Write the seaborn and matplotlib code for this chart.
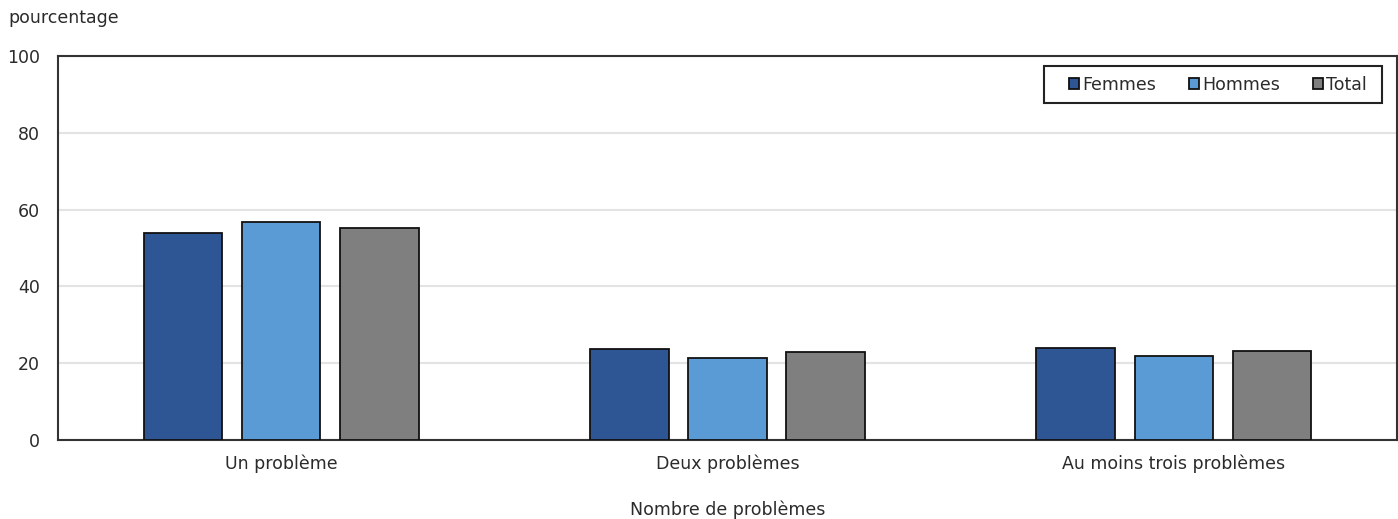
import matplotlib
matplotlib.use("Agg")
import matplotlib.pyplot as plt
from matplotlib.patches import Rectangle
import seaborn as sns
import pandas as pd

categories = ["Un problème", "Deux problèmes", "Au moins trois problèmes"]
series = ["Femmes", "Hommes", "Total"]
femmes = [53.9, 23.6, 23.9]
hommes = [56.9, 21.4, 22.0]
total = [55.1, 22.8, 23.2]
colors = ["#2E5594", "#5A9AD5", "#7F7F7F"]

rows = []
for name, vals in zip(series, [femmes, hommes, total]):
    for c, v in zip(categories, vals):
        rows.append({"cat": c, "serie": name, "val": v})
df = pd.DataFrame(rows)

sns.set_style("white")
plt.rcParams["font.family"] = ["DejaVu Sans"]
plt.rcParams["font.sans-serif"] = ["DejaVu Sans"]
txt = "#2b2b2b"
fs = 12.5

W, H = 1398, 519
fig = plt.figure(figsize=(W / 100, H / 100), dpi=100)
ax_l, ax_r, ax_t, ax_b = 58, 1397, 56, 440
ax = fig.add_axes([ax_l / W, 1 - ax_b / H, (ax_r - ax_l) / W, (ax_b - ax_t) / H])

sns.barplot(data=df, x="cat", y="val", hue="serie", order=categories,
            hue_order=series, palette=colors, saturation=1, width=0.66, gap=0.2,
            edgecolor="#111111", linewidth=1.3, ax=ax, zorder=3)

ax.set_ylim(0, 100)
ax.set_xlim(-0.5, 2.5)
ax.set_yticks([0, 20, 40, 60, 80, 100])
ax.yaxis.grid(True, color="#e3e3e3", linewidth=1.5, zorder=0)
ax.set_axisbelow(True)
ax.tick_params(axis="both", length=0, labelsize=fs, colors=txt)
ax.tick_params(axis="y", pad=13)
ax.tick_params(axis="x", pad=10.5)
for s in ax.spines.values():
    s.set_visible(True)
    s.set_color("#333333")
    s.set_linewidth(1.5)
ax.set_ylabel("")
ax.set_xlabel("")
fig.text(0.5 * (ax_l + ax_r) / W, 1 - 515 / H, "Nombre de problèmes", fontsize=fs,
         color=txt, ha="center", va="baseline")
fig.text(8 / W, 1 - 18 / H, "pourcentage", fontsize=fs, color=txt,
         ha="left", va="center")

# legend box (manual frame for exact placement)
def ax_x(px):
    return (px - ax_l) / (ax_r - ax_l)

def ax_y(py):
    return (ax_b - py) / (ax_b - ax_t)

ax.add_patch(Rectangle((ax_x(1044), ax_y(103)), ax_x(1382) - ax_x(1044),
                       ax_y(66) - ax_y(103), transform=ax.transAxes,
                       facecolor="white", edgecolor="#222222", linewidth=1.5,
                       zorder=5, clip_on=False))
leg = ax.legend(loc="center left", bbox_to_anchor=(ax_x(1069), ax_y(84.5)),
                ncol=3, frameon=False, fontsize=fs,
                handlelength=0.6, handleheight=0.6, handletextpad=0.15,
                columnspacing=1.9, borderpad=0, borderaxespad=0)
leg.set_zorder(6)
for t in leg.get_texts():
    t.set_color(txt)

fig.savefig("out.png", dpi=100)
